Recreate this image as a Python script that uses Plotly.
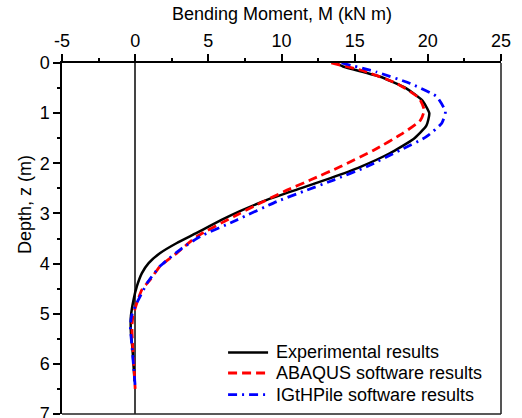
import plotly.graph_objects as go

# Bending moment profiles along the pile (depth in m, moment in kN m)
exp_depth = [0, 0.07, 0.27, 0.50, 0.74, 1.00, 1.25, 1.52, 1.80, 2.07, 2.30, 2.50,
             2.73, 2.95, 3.13, 3.39, 3.59, 3.79, 3.99, 4.19, 4.45, 4.72, 5.05, 5.38,
             5.71, 6.04, 6.35]
exp_moment = [13.7, 14.2, 16.7, 18.5, 19.6, 20.1, 19.9, 19.0, 17.4, 15.4, 13.3, 11.3,
              9.0, 7.2, 5.9, 4.2, 2.85, 1.71, 0.92, 0.46, 0.12, -0.11, -0.29, -0.29,
              -0.18, -0.11, -0.04]

abq_depth = [0, 0.14, 0.41, 0.70, 0.94, 1.14, 1.40, 1.74, 2.07, 2.33, 2.56, 2.83,
             3.06, 3.46, 3.79, 4.05, 4.32, 4.52, 4.78, 5.05, 5.25, 5.58, 5.91, 6.50]
abq_moment = [13.4, 15.4, 17.9, 19.4, 19.75, 19.5, 18.3, 16.3, 14.0, 12.0, 10.2, 8.3,
              6.75, 4.22, 2.85, 1.71, 1.03, 0.46, 0.12, -0.15, -0.22, -0.18, -0.11, 0.0]

igt_depth = [0, 0.18, 0.41, 0.67, 0.97, 1.20, 1.47, 1.74, 2.07, 2.33, 2.56, 2.76,
             3.13, 3.46, 3.72, 4.05, 4.39, 4.65, 4.85, 5.05, 5.25, 5.65, 6.04, 6.45]
igt_moment = [14.1, 16.5, 18.8, 20.6, 21.2, 20.95, 19.9, 18.1, 15.8, 13.6, 11.5, 9.7,
              6.95, 4.45, 3.08, 1.71, 0.81, 0.35, 0.0, -0.25, -0.33, -0.22, -0.11, 0.0]

series_names = ["Experimental results", "ABAQUS software results", "IGtHPile software results"]

# Axis ticks (hyphen-minus labels)
x_ticks = [-5, 0, 5, 10, 15, 20, 25]
x_labels = ["-5", "0", "5", "10", "15", "20", "25"]
y_ticks = [0, 1, 2, 3, 4, 5, 6, 7]
y_labels = ["0", "1", "2", "3", "4", "5", "6", "7"]

FONT = "Liberation Sans, Arial, sans-serif"
SIZE = 18

styles = [
    dict(color="black", width=2.5, dash="solid"),
    dict(color="#ff0000", width=2.8, dash="9px,5px"),
    dict(color="#0000ff", width=2.8, dash="9px,5px,2px,5px"),
]

fig = go.Figure()
for name, xs, ys, st in zip(series_names,
                            [exp_moment, abq_moment, igt_moment],
                            [exp_depth, abq_depth, igt_depth],
                            styles):
    fig.add_trace(go.Scatter(x=xs, y=ys, mode="lines", name=name, line=st,
                             line_shape="spline", line_smoothing=0.5))

# Frame lines on the right and bottom edges
shapes = [
    dict(type="line", xref="paper", yref="paper", x0=1, x1=1, y0=0, y1=1,
         line=dict(color="#555555", width=2)),
    dict(type="line", xref="paper", yref="paper", x0=0, x1=1, y0=0, y1=0,
         line=dict(color="#222222", width=1.5)),
]
# Axis titles
annotations = [
    dict(text="Depth, z (m)", textangle=-90, xref="paper", yref="paper",
         x=-0.084, y=0.596, xanchor="center", yanchor="middle",
         showarrow=False, font=dict(size=SIZE)),
    dict(text="Bending Moment, M (kN m)", xref="paper", yref="paper",
         x=0.5, y=1.139, xanchor="center", yanchor="middle",
         showarrow=False, font=dict(size=SIZE)),
]
# Legend drawn as sample segments with text beside them (no frame)
legend_rows_y = [0.1755, 0.1168, 0.055]
for name, st, yy in zip(series_names, styles, legend_rows_y):
    shapes.append(dict(type="line", xref="paper", yref="paper",
                       x0=0.3783, x1=0.4694, y0=yy, y1=yy, line=st))
    annotations.append(dict(text=name, xref="paper", yref="paper", x=0.4833, y=yy,
                            xanchor="left", yanchor="middle", showarrow=False,
                            font=dict(size=SIZE)))

fig.update_layout(
    width=522, height=418,
    margin=dict(l=62, r=21, t=63, b=4),
    plot_bgcolor="white", paper_bgcolor="white",
    font=dict(family=FONT, size=SIZE, color="black"),
    showlegend=False,
    xaxis=dict(
        side="top", range=[-5, 25], tickvals=x_ticks, ticktext=x_labels,
        ticks="outside", ticklen=7, tickwidth=1.5, tickcolor="black",
        minor=dict(dtick=2.5, tick0=0, ticks="outside", ticklen=3.5, tickwidth=1.5,
                   tickcolor="black"),
        showline=True, linecolor="black", linewidth=2, mirror=False,
        showgrid=False, zeroline=True, zerolinecolor="#444444", zerolinewidth=1.5,
        tickfont=dict(size=SIZE), ticklabeloverflow="allow", automargin=False,
    ),
    yaxis=dict(
        range=[7, 0], tickvals=y_ticks, ticktext=y_labels,
        ticks="outside", ticklen=7, tickwidth=1.5, tickcolor="black",
        minor=dict(dtick=0.5, tick0=0, ticks="outside", ticklen=3.5, tickwidth=1.5,
                   tickcolor="black"),
        showline=True, linecolor="black", linewidth=1.5, mirror=False,
        showgrid=False, zeroline=False,
        tickfont=dict(size=SIZE), ticklabeloverflow="allow", automargin=False,
    ),
    annotations=annotations,
    shapes=shapes,
)

fig.write_html("out.html")
